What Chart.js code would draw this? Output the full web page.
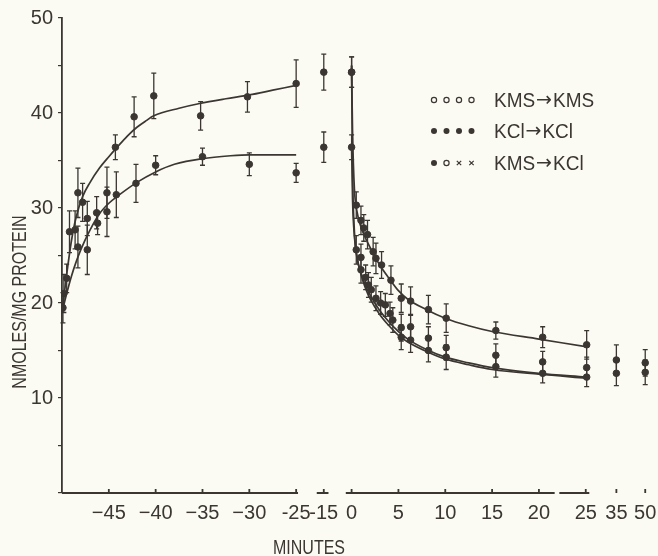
<!DOCTYPE html>
<html>
<head>
<meta charset="utf-8">
<script src="https://cdn.jsdelivr.net/npm/chart.js@4.4.0/dist/chart.umd.min.js"></script>
<style>
  html, body { margin: 0; padding: 0; background: #fbfaf3; }
  #wrap { width: 658px; height: 556px; }
</style>
</head>
<body>
<div id="wrap"><canvas id="effluxChart" width="658" height="556"></canvas></div>
<script>
const INK = "#3b3632";
const FONT = "'Liberation Sans', Arial, sans-serif";

// --- loading phase (minutes before transfer) ---
const kmsLoadT = [-49.8, -49.2, -48.3, -47.8, -47.3, -45.2, -44.3, -42.3, -40.2, -35.2, -30.2, -25, -15];
const kmsLoadV = [21.0, 27.5, 31.6, 30.6, 28.9, 31.6, 36.4, 39.6, 41.8, 39.7, 41.7, 43.1, 44.3];
const kmsLoadE = [2.0, 2.2, 2.6, 2.0, 1.8, 2.7, 1.3, 2.1, 2.4, 1.5, 1.6, 2.5, 1.9];

const kclLoadT = [-49.9, -49.5, -48.6, -48.3, -47.3, -46.3, -46.2, -45.2, -44.2, -42.1, -40.0, -35.0, -30.0, -25.0, -15];
const kclLoadV = [19.5, 22.6, 27.7, 25.9, 25.6, 29.5, 28.4, 29.6, 31.4, 32.6, 34.5, 35.4, 34.6, 33.7, 36.4];
const kclLoadE = [1.6, 1.5, 2.0, 2.2, 2.6, 1.7, 1.2, 2.6, 2.4, 2.0, 1.0, 0.9, 1.2, 1.0, 1.6];

// fitted loading curves
const kmsFitT = [-50, -49.5, -49, -48.5, -47.8, -47, -46, -45, -44.2, -43, -42, -41, -40.2, -37.5, -35.3, -32.5, -30, -27.5, -25];
const kmsFitV = [19.0, 23.0, 26.5, 29.0, 31.2, 32.7, 34.2, 35.4, 36.3, 37.6, 38.5, 39.2, 39.7, 40.5, 41.0, 41.5, 41.9, 42.4, 42.9];
const kclFitT = [-50, -49.5, -49, -48.5, -48, -47, -46, -45, -44, -42, -40, -38, -35, -32, -30, -27.5, -25];
const kclFitV = [19.0, 21.0, 22.8, 24.3, 25.6, 27.7, 29.4, 30.5, 31.3, 32.7, 33.8, 34.6, 35.2, 35.5, 35.6, 35.6, 35.6];

// --- efflux phase (minutes after transfer) ---
const kmsKmsT = [0, 0.5, 1.0, 1.3, 1.7, 2.3, 2.6, 3.2, 4.2, 5.3, 6.3, 8.2, 10.1, 15.4, 20.4, 25.3];
const kmsKmsV = [44.3, 30.3, 28.7, 27.9, 27.2, 25.4, 24.7, 24.0, 22.4, 20.5, 20.2, 19.3, 18.4, 17.1, 16.4, 15.6];
const kmsKmsE = [1.6, 1.4, 1.5, 1.4, 1.5, 1.5, 1.6, 1.4, 1.5, 1.5, 1.5, 1.5, 1.5, 0.9, 1.1, 1.5];

const kclKclT = [0, 0.5, 1.0, 1.8, 2.6, 3.6, 4.4, 5.3, 6.3, 8.2, 10.1, 15.4, 20.4, 25.3, 35, 50];
const kclKclV = [36.4, 25.6, 23.5, 21.9, 20.5, 19.8, 18.2, 17.4, 17.5, 16.3, 15.3, 14.5, 13.8, 13.2, 14.0, 13.7];
const kclKclE = [1.3, 1.5, 1.4, 1.3, 1.3, 1.2, 1.3, 1.4, 1.3, 1.2, 1.3, 1.2, 1.1, 1.1, 1.6, 1.4];

const kmsKclT = [0, 1.0, 1.5, 2.1, 3.1, 4.1, 5.3, 6.3, 8.2, 10.1, 15.4, 20.4, 25.3, 35, 50];
const kmsKclV = [44.3, 24.8, 22.7, 21.4, 20.0, 18.9, 16.4, 16.1, 15.0, 14.3, 13.3, 12.6, 12.2, 12.6, 12.7];
const kmsKclE = [1.6, 1.4, 1.3, 1.3, 1.2, 1.2, 1.3, 1.3, 1.2, 1.3, 1.1, 1.0, 1.0, 1.3, 1.3];

// fitted efflux curves
const effluxFitT = [0, 0.1, 0.3, 0.6, 1, 1.5, 2, 3, 4, 5, 6, 8, 10, 12.5, 15, 20, 25];
const kmsKmsFit = [45.0, 38, 32, 29.5, 28.0, 26.8, 25.8, 24.0, 22.6, 21.3, 20.4, 19.3, 18.4, 17.6, 17.0, 16.2, 15.4];
const kclKclFit = [36.8, 31, 27, 24.6, 23.2, 21.8, 20.8, 19.2, 18.0, 17.0, 16.2, 15.1, 14.3, 13.7, 13.2, 12.6, 12.2];
const kmsKclFit = [45.0, 34, 27.5, 24.8, 23.0, 21.5, 20.4, 18.8, 17.6, 16.6, 15.9, 14.9, 14.1, 13.5, 13.0, 12.5, 12.1];

// tick labels on the broken time axis
const xTickMin = [-45, -40, -35, -30, -25, -15, 0, 5, 10, 15, 20, 25, 35, 50];
const xTickText = ["\u221245", "\u221240", "\u221235", "\u221230", "-25", "-15", "0", "5", "10", "15", "20", "25", "35", "50"];

// axis break: real minutes -> position along the drawn axis
const breakMin = [-50, -25, -15, 0, 25, 35, 50];
const breakPos = [-50, -25, -22.05, -19.08, 5.92, 9.19, 12.27];
function pos(t) {
  for (let i = 0; i < breakMin.length - 1; i++) {
    if (t <= breakMin[i + 1]) {
      const f = (t - breakMin[i]) / (breakMin[i + 1] - breakMin[i]);
      return breakPos[i] + f * (breakPos[i + 1] - breakPos[i]);
    }
  }
  return breakPos[breakPos.length - 1];
}
const pts = (ts, vs) => ts.map((t, i) => ({ x: pos(t), y: vs[i] }));

function curve(ts, vs) {
  return {
    data: pts(ts, vs), showLine: true, pointRadius: 0,
    borderColor: INK, borderWidth: 1.7, cubicInterpolationMode: "monotone"
  };
}
function marks(ts, vs, es) {
  return {
    data: pts(ts, vs), errors: es, showLine: false, pointRadius: 3.3,
    pointBackgroundColor: INK, pointBorderColor: INK
  };
}

const errorBars = {
  id: "errorBars",
  afterDatasetsDraw(chart) {
    const { ctx } = chart;
    const y = chart.scales.y;
    ctx.save();
    ctx.strokeStyle = INK;
    ctx.lineWidth = 1.3;
    chart.data.datasets.forEach((ds, i) => {
      if (!ds.errors) return;
      chart.getDatasetMeta(i).data.forEach((pt, j) => {
        const top = y.getPixelForValue(ds.data[j].y + ds.errors[j]);
        const bot = y.getPixelForValue(ds.data[j].y - ds.errors[j]);
        ctx.beginPath();
        ctx.moveTo(pt.x, top); ctx.lineTo(pt.x, bot);
        ctx.moveTo(pt.x - 2.5, top); ctx.lineTo(pt.x + 2.5, top);
        ctx.moveTo(pt.x - 2.5, bot); ctx.lineTo(pt.x + 2.5, bot);
        ctx.stroke();
      });
    });
    ctx.restore();
  }
};

// broken x axis, legend and axis titles
const axisSegments = [[-50, -24.8], [-22.8, -21.55], [-19.7, 2.6], [3.1, 6.3]];
const legendRows = [
  { y: 100, from: "KMS", to: "KMS", m: ["o", "o", "o", "o"] },
  { y: 131, from: "KCl", to: "KCl", m: ["f", "f", "f", "f"] },
  { y: 163, from: "KMS", to: "KCl", m: ["f", "o", "x", "x"] }
];
const decorations = {
  id: "decorations",
  afterDraw(chart) {
    const { ctx, chartArea } = chart;
    const x = chart.scales.x;
    const yb = chartArea.bottom;
    ctx.save();
    ctx.strokeStyle = INK;
    ctx.fillStyle = INK;
    ctx.lineWidth = 1.8;
    ctx.beginPath();
    axisSegments.forEach(([a, b]) => {
      ctx.moveTo(x.getPixelForValue(a), yb);
      ctx.lineTo(x.getPixelForValue(b), yb);
    });
    xTickMin.forEach(t => {
      const px = x.getPixelForValue(pos(t));
      ctx.moveTo(px, yb);
      ctx.lineTo(px, yb - 4);
    });
    ctx.stroke();

    // legend
    ctx.lineWidth = 1.2;
    legendRows.forEach(r => {
      r.m.forEach((k, i) => {
        const cx = 434 + i * 12.5;
        ctx.beginPath();
        if (k === "f") {
          ctx.arc(cx, r.y, 3, 0, Math.PI * 2); ctx.fill();
        } else if (k === "o") {
          ctx.arc(cx, r.y, 2.6, 0, Math.PI * 2); ctx.stroke();
        } else {
          ctx.moveTo(cx - 2.2, r.y - 2.2); ctx.lineTo(cx + 2.2, r.y + 2.2);
          ctx.moveTo(cx + 2.2, r.y - 2.2); ctx.lineTo(cx - 2.2, r.y + 2.2);
          ctx.stroke();
        }
      });
      ctx.save();
      ctx.translate(494, r.y + 1);
      ctx.scale(0.95, 1);
      ctx.textBaseline = "middle";
      ctx.font = "20px " + FONT;
      let cx = 0;
      ctx.fillText(r.from, cx, 0);
      cx += ctx.measureText(r.from).width + 1;
      ctx.font = "20px 'DejaVu Sans'";
      ctx.fillText("\u2192", cx, 0);
      cx += ctx.measureText("\u2192").width + 1;
      ctx.font = "20px " + FONT;
      ctx.fillText(r.to, cx, 0);
      ctx.restore();
    });

    // axis titles
    ctx.save();
    ctx.translate(20, 302);
    ctx.rotate(-Math.PI / 2);
    ctx.scale(0.8, 1);
    ctx.font = "20px " + FONT;
    ctx.textAlign = "center";
    ctx.textBaseline = "middle";
    ctx.fillText("NMOLES/MG PROTEIN", 0, 0);
    ctx.restore();

    ctx.save();
    ctx.translate(309, 548);
    ctx.scale(0.8, 1);
    ctx.font = "20px " + FONT;
    ctx.textAlign = "center";
    ctx.textBaseline = "middle";
    ctx.fillText("MINUTES", 0, 0);
    ctx.restore();
    ctx.restore();
  }
};

Chart.defaults.font.family = FONT;
Chart.defaults.color = INK;

new Chart(document.getElementById("effluxChart").getContext("2d"), {
  type: "scatter",
  data: {
    datasets: [
      curve(kmsFitT, kmsFitV),
      curve(kclFitT, kclFitV),
      curve(effluxFitT, kmsKmsFit),
      curve(effluxFitT, kclKclFit),
      curve(effluxFitT, kmsKclFit),
      marks(kmsLoadT, kmsLoadV, kmsLoadE),
      marks(kclLoadT, kclLoadV, kclLoadE),
      marks(kmsKmsT, kmsKmsV, kmsKmsE),
      marks(kclKclT, kclKclV, kclKclE),
      marks(kmsKclT, kmsKclV, kmsKclE)
    ]
  },
  options: {
    responsive: false,
    animation: false,
    layout: { padding: { top: 18, right: 3, left: 0, bottom: 0 } },
    plugins: { legend: { display: false }, tooltip: { enabled: false } },
    scales: {
      x: {
        type: "linear", min: -50, max: 13.1,
        afterFit: s => { s.height = 63; s.paddingLeft = 0; s.paddingRight = 0; },
        afterBuildTicks: s => { s.ticks = xTickMin.map(t => ({ value: pos(t) })); },
        ticks: {
          autoSkip: false, maxRotation: 0, minRotation: 0, padding: 0,
          font: { size: 20 }, color: INK,
          callback: (v, i) => xTickText[i]
        },
        grid: { display: false },
        border: { display: false }
      },
      y: {
        min: 0, max: 50,
        afterFit: s => { s.width = 62; s.paddingTop = 0; s.paddingBottom = 0; },
        ticks: {
          stepSize: 5, padding: 5, font: { size: 20 }, color: INK,
          callback: v => (v > 0 && v % 10 === 0) ? v : ""
        },
        grid: { drawOnChartArea: false, tickLength: 4, color: INK, lineWidth: 1.2 },
        border: { color: INK, width: 1.8 }
      }
    }
  },
  plugins: [errorBars, decorations]
});
</script>
</body>
</html>
